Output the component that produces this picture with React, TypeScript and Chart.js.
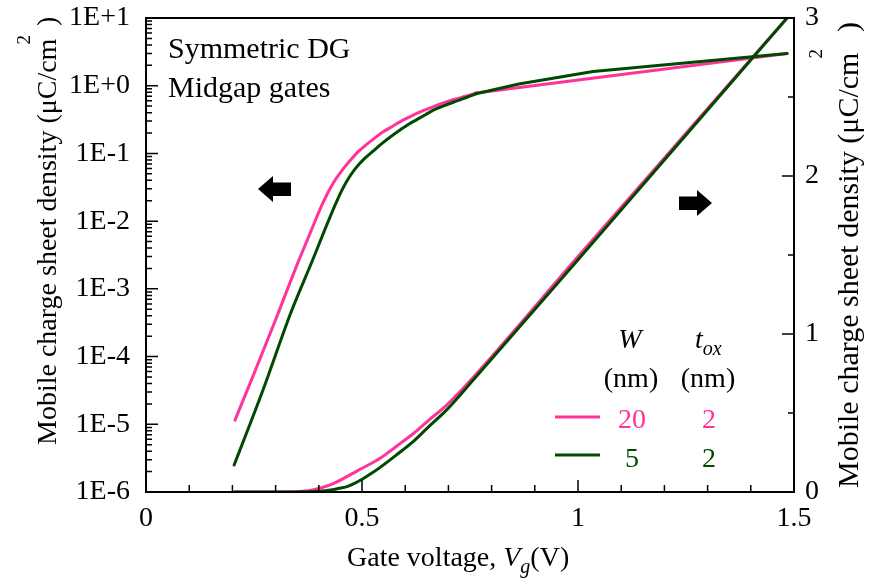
import React, { useEffect, useRef } from 'react';
import { Chart, registerables } from 'chart.js';

Chart.register(...registerables);

const FONT = '"Liberation Serif", "Times New Roman", Times, serif';

// ---- Data ----
// Left (log) axis curves
const pinkLogX = [0.206, 0.25, 0.3, 0.35, 0.373, 0.41, 0.435, 0.455, 0.473, 0.492, 0.512, 0.53, 0.55, 0.57, 0.589, 0.608, 0.627, 0.646, 0.665, 0.69, 0.715, 0.74, 0.764, 1.484];
const pinkLogY = [1.15e-5, 5.6e-5, 3.5e-4, 2.3e-3, 5.2e-3, 1.9e-2, 3.8e-2, 5.75e-2, 7.9e-2, 0.107, 0.138, 0.17, 0.21, 0.25, 0.295, 0.34, 0.39, 0.44, 0.49, 0.56, 0.63, 0.7, 0.78, 3.0];
const pinkLogKnee = 22; // index where the curve becomes straight

const greenLogX = [0.204, 0.273, 0.335, 0.385, 0.404, 0.442, 0.465, 0.485, 0.505, 0.525, 0.545, 0.567, 0.589, 0.608, 0.627, 0.646, 0.665, 0.69, 0.715, 0.74, 0.764, 0.863, 1.035, 1.484];
const greenLogY = [2.5e-6, 3.5e-5, 4.4e-4, 2.6e-3, 5.2e-3, 2.0e-2, 3.9e-2, 6.0e-2, 8.3e-2, 0.107, 0.138, 0.178, 0.224, 0.27, 0.316, 0.37, 0.436, 0.507, 0.582, 0.664, 0.76, 1.06, 1.62, 3.0];
const greenLogKnee = 20;

// Right (linear) axis curves
const pinkLinX = [0.206, 0.3, 0.35, 0.38, 0.404, 0.435, 0.465, 0.5, 0.542, 0.58, 0.619, 0.657, 0.696, 0.754, 1.0, 1.25, 1.484];
const pinkLinY = [0.00001, 0.0004, 0.0025, 0.009, 0.025, 0.055, 0.097, 0.15, 0.213, 0.29, 0.37, 0.46, 0.55, 0.715, 1.49, 2.27, 3.0];

const greenLinX = [0.204, 0.35, 0.4, 0.427, 0.445, 0.465, 0.485, 0.504, 0.523, 0.542, 0.58, 0.619, 0.657, 0.696, 0.758, 1.0, 1.25, 1.484];
const greenLinY = [0.000003, 0.0004, 0.004, 0.012, 0.022, 0.034, 0.058, 0.087, 0.12, 0.156, 0.235, 0.32, 0.42, 0.52, 0.71, 1.47, 2.26, 3.0];

// Ticks
const xTickValues = [0, 0.5, 1, 1.5];
const xTickLabels = ['0', '0.5', '1', '1.5'];
const logTickValues = [1e-6, 1e-5, 1e-4, 1e-3, 1e-2, 1e-1, 1, 10];
const logTickLabels = ['1E-6', '1E-5', '1E-4', '1E-3', '1E-2', '1E-1', '1E+0', '1E+1'];
const linTickValues = [0, 1, 2, 3];
const linTickLabels = ['0', '1', '2', '3'];

// Legend / annotation text
const legendW = ['20', '5'];
const legendTox = ['2', '2'];
const annotation = ['Symmetric DG', 'Midgap gates'];
const yTitle = 'Mobile charge sheet density (\u03BCC/cm';
const xTitleMain = 'Gate voltage, ';

const PINK = '#ff3399';
const GREEN = '#004a00';

function pts(xs: number[], ys: number[], from = 0, to = xs.length) {
  const out: { x: number; y: number }[] = [];
  for (let i = from; i < to; i++) out.push({ x: xs[i], y: ys[i] });
  return out;
}

type Run = { text: string; font: string; dy?: number; dx?: number };

function drawRuns(ctx: CanvasRenderingContext2D, items: Run[], x: number, y: number) {
  let cx = x;
  for (const it of items) {
    ctx.font = it.font;
    cx += it.dx || 0;
    ctx.fillText(it.text, cx, y + (it.dy || 0));
    cx += ctx.measureText(it.text).width;
  }
}

function runsWidth(ctx: CanvasRenderingContext2D, items: Run[]) {
  let w = 0;
  for (const it of items) {
    ctx.font = it.font;
    w += (it.dx || 0) + ctx.measureText(it.text).width;
  }
  return w;
}

const f = (size: number, italic = false) => `${italic ? 'italic ' : ''}${size}px ${FONT}`;

const decor = {
  id: 'decor',
  afterDraw(chart: any) {
    const ctx: CanvasRenderingContext2D = chart.ctx;
    const { left, right, top, bottom } = chart.chartArea;
    const xs = chart.scales.x;
    const yl = chart.scales.y;
    const yr = chart.scales.y2;
    ctx.save();
    ctx.strokeStyle = '#000';
    ctx.lineWidth = 2;
    ctx.strokeRect(left, top, right - left, bottom - top);
    ctx.lineWidth = 1.5;
    ctx.beginPath();
    for (let i = 0; i <= 15; i++) {
      const px = xs.getPixelForValue(i / 10);
      const len = i % 5 === 0 ? 12 : 7;
      ctx.moveTo(px, bottom);
      ctx.lineTo(px, bottom - len);
    }
    for (let k = -6; k <= 0; k++) {
      for (let m = 1; m <= 9; m++) {
        const py = yl.getPixelForValue(m * Math.pow(10, k));
        const len = m === 1 ? 12 : 6;
        ctx.moveTo(left, py);
        ctx.lineTo(left + len, py);
      }
    }
    for (let i = 0; i <= 6; i++) {
      const py = yr.getPixelForValue(i * 0.5);
      const len = i % 2 === 0 ? 12 : 6;
      ctx.moveTo(right, py);
      ctx.lineTo(right - len, py);
    }
    ctx.stroke();

    ctx.fillStyle = '#000';
    ctx.textBaseline = 'alphabetic';
    ctx.textAlign = 'left';

    ctx.font = f(30);
    ctx.fillText(annotation[0], 168, 58);
    ctx.fillText(annotation[1], 168, 97);

    // arrows
    ctx.beginPath();
    ctx.moveTo(258, 189);
    ctx.lineTo(273, 176);
    ctx.lineTo(273, 182.5);
    ctx.lineTo(291, 182.5);
    ctx.lineTo(291, 196);
    ctx.lineTo(273, 196);
    ctx.lineTo(273, 202);
    ctx.closePath();
    ctx.fill();
    ctx.beginPath();
    ctx.moveTo(712, 203);
    ctx.lineTo(697, 190);
    ctx.lineTo(697, 196.5);
    ctx.lineTo(679, 196.5);
    ctx.lineTo(679, 210);
    ctx.lineTo(697, 210);
    ctx.lineTo(697, 216);
    ctx.closePath();
    ctx.fill();

    // x title
    drawRuns(ctx, [
      { text: xTitleMain, font: f(28) },
      { text: 'V', font: f(28, true) },
      { text: 'g', font: f(20, true), dy: 7 },
      { text: '(V)', font: f(28) },
    ], 347, 566);

    // left y title
    ctx.save();
    ctx.translate(56, 445);
    ctx.rotate(-Math.PI / 2);
    drawRuns(ctx, [
      { text: yTitle, font: f(28) },
      { text: '2', font: f(19), dy: -26, dx: -6 },
      { text: ' )', font: f(28), dx: 2 },
    ], 0, 0);
    ctx.restore();

    // right y title
    ctx.save();
    ctx.translate(858, 488);
    ctx.rotate(-Math.PI / 2);
    drawRuns(ctx, [
      { text: yTitle, font: f(30) },
      { text: '2', font: f(19), dy: -36, dx: -6 },
      { text: '  )', font: f(30), dx: 2 },
    ], 0, 0);
    ctx.restore();

    // legend
    ctx.textAlign = 'left';
    const wRun: Run[] = [{ text: 'W', font: f(28, true) }];
    drawRuns(ctx, wRun, 630 - runsWidth(ctx, wRun) / 2, 348);
    drawRuns(ctx, [
      { text: 't', font: f(28, true) },
      { text: 'ox', font: f(20, true), dy: 7 },
    ], 695, 348);
    ctx.textAlign = 'center';
    ctx.font = f(28);
    ctx.fillText('(nm)', 631, 387);
    ctx.fillText('(nm)', 708, 387);

    const rows = [
      { color: PINK, y: 417, base: 428 },
      { color: GREEN, y: 455, base: 467 },
    ];
    rows.forEach((r, i) => {
      ctx.strokeStyle = r.color;
      ctx.lineWidth = 3;
      ctx.beginPath();
      ctx.moveTo(555, r.y);
      ctx.lineTo(600, r.y);
      ctx.stroke();
      ctx.fillStyle = r.color;
      ctx.font = f(28);
      ctx.fillText(legendW[i], 632, r.base);
      ctx.fillText(legendTox[i], 709, r.base);
    });
    ctx.restore();
  },
};

export default function App() {
  const ref = useRef<HTMLCanvasElement | null>(null);
  useEffect(() => {
    const canvas = ref.current;
    if (!canvas) return;
    const tickFont = { family: FONT, size: 28 };
    const smooth = { cubicInterpolationMode: 'monotone' };
    const straight = { tension: 0 };
    const chart = new Chart(canvas, {
      type: 'line',
      data: {
        datasets: [
          { label: 'W=5 log', data: pts(greenLogX, greenLogY, 0, greenLogKnee + 1), yAxisID: 'y', borderColor: GREEN, order: 0, ...smooth },
          { label: 'W=5 log upper', data: pts(greenLogX, greenLogY, greenLogKnee), yAxisID: 'y', borderColor: GREEN, order: 0, ...straight },
          { label: 'W=5 lin', data: pts(greenLinX, greenLinY), yAxisID: 'y2', borderColor: GREEN, order: 1, ...smooth },
          { label: 'W=20 log', data: pts(pinkLogX, pinkLogY, 0, pinkLogKnee + 1), yAxisID: 'y', borderColor: PINK, order: 2, ...smooth },
          { label: 'W=20 log upper', data: pts(pinkLogX, pinkLogY, pinkLogKnee), yAxisID: 'y', borderColor: PINK, order: 2, ...straight },
          { label: 'W=20 lin', data: pts(pinkLinX, pinkLinY), yAxisID: 'y2', borderColor: PINK, order: 3, ...smooth },
        ] as any,
      },
      options: {
        animation: false,
        responsive: false,
        devicePixelRatio: 1,
        layout: { padding: { top: 18, left: 0, right: 0, bottom: 0 } },
        elements: {
          point: { radius: 0 },
          line: { borderWidth: 3, fill: false, borderCapStyle: 'round', borderJoinStyle: 'round' },
        },
        plugins: { legend: { display: false }, tooltip: { enabled: false } },
        scales: {
          x: {
            type: 'linear',
            min: 0,
            max: 1.5,
            position: 'bottom',
            grid: { display: false, drawTicks: false },
            border: { display: false },
            afterBuildTicks: (s: any) => {
              s.ticks = xTickValues.map((v) => ({ value: v }));
            },
            afterFit: (s: any) => {
              s.height = 87;
              s.paddingLeft = 0;
              s.paddingRight = 0;
            },
            ticks: {
              font: tickFont,
              color: '#000',
              padding: 10,
              maxRotation: 0,
              autoSkip: false,
              callback: (v: any) => {
                const i = xTickValues.findIndex((t) => Math.abs(t - v) < 1e-9);
                return i >= 0 ? xTickLabels[i] : '';
              },
            },
          },
          y: {
            type: 'logarithmic',
            min: 1e-6,
            max: 10,
            position: 'left',
            grid: { display: false, drawTicks: false },
            border: { display: false },
            afterBuildTicks: (s: any) => {
              s.ticks = logTickValues.map((v) => ({ value: v }));
            },
            afterFit: (s: any) => {
              s.width = 146;
              s.paddingTop = 0;
              s.paddingBottom = 0;
            },
            ticks: {
              font: tickFont,
              color: '#000',
              padding: 16,
              autoSkip: false,
              callback: (v: any) => {
                const i = logTickValues.findIndex((t) => Math.abs(Math.log10(t) - Math.log10(v)) < 1e-6);
                return i >= 0 ? logTickLabels[i] : '';
              },
            },
          },
          y2: {
            type: 'linear',
            min: 0,
            max: 3,
            position: 'right',
            grid: { display: false, drawTicks: false },
            border: { display: false },
            afterBuildTicks: (s: any) => {
              s.ticks = linTickValues.map((v) => ({ value: v }));
            },
            afterFit: (s: any) => {
              s.width = 75;
              s.paddingTop = 0;
              s.paddingBottom = 0;
            },
            ticks: {
              font: tickFont,
              color: '#000',
              padding: 11,
              autoSkip: false,
              callback: (v: any) => {
                const i = linTickValues.findIndex((t) => Math.abs(t - v) < 1e-9);
                return i >= 0 ? linTickLabels[i] : '';
              },
            },
          },
        },
      } as any,
      plugins: [decor],
    });
    return () => chart.destroy();
  }, []);
  return (
    <div style={{ position: 'fixed', left: 0, top: 0, width: 869, height: 579, background: '#fff' }}>
      <canvas ref={ref} width={869} height={579} style={{ width: 869, height: 579 }} />
    </div>
  );
}
